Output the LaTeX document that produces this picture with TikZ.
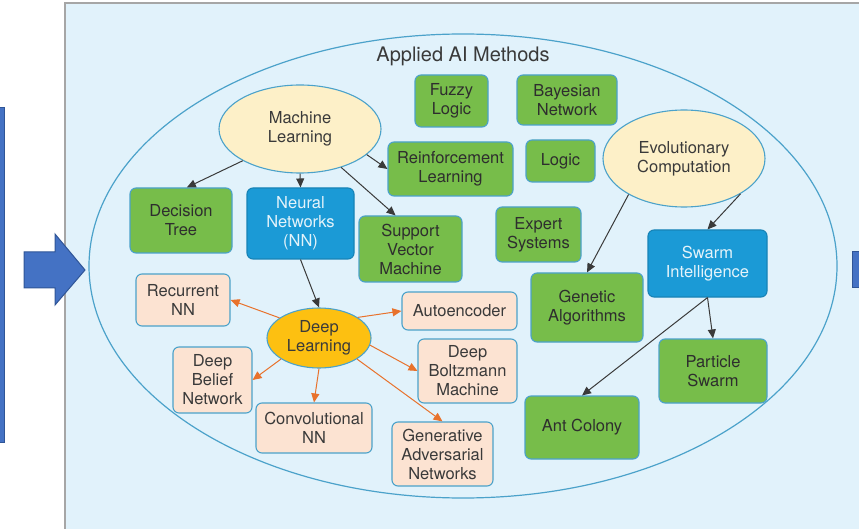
\documentclass[tikz,border=0pt]{standalone}
\usepackage{fontspec}
\setmainfont{TeX Gyre Heros}
\usetikzlibrary{shapes.geometric,arrows.meta}

\definecolor{panelbg}{HTML}{E1F2FB}
\definecolor{rimblue}{HTML}{4BA2CA}
\definecolor{leafgreen}{HTML}{77BD4A}
\definecolor{nnblue}{HTML}{1B9AD6}
\definecolor{peach}{HTML}{FCE3D2}
\definecolor{cream}{HTML}{FDF0C8}
\definecolor{dlyellow}{HTML}{FDC011}
\definecolor{arrorange}{HTML}{E8722C}
\definecolor{bigblue}{HTML}{4472C4}
\definecolor{bigblueedge}{HTML}{2F5597}
\definecolor{txtgray}{HTML}{3A3A3A}

\begin{document}
\begin{tikzpicture}[x=1pt, y=-1pt,
	every node/.style={font=\fontsize{16.5}{19}\selectfont, align=center, inner sep=0pt},
	method/.style={rectangle, rounded corners=6pt, draw=rimblue, line width=1.1pt, fill=leafgreen, text=txtgray!80!black},
	netbox/.style={method, fill=nnblue, draw=nnblue!85!black, text=white!88!nnblue},
	dlbox/.style={method, fill=peach, text=txtgray},
	bubble/.style={ellipse, draw=rimblue, line width=1.1pt, fill=cream, text=txtgray},
	arr/.style={-{Triangle[length=9pt,width=8pt]}, line width=1pt, draw=txtgray},
	orarr/.style={arr, draw=arrorange}]

	\useasboundingbox (0,0) rectangle (859,529);

%panel
	\draw[fill=panelbg, draw=gray!70, line width=1.5pt] (65,3) rectangle (875,545);
	\draw[fill=bigblue, draw=bigblueedge, line width=1pt] (852,252) rectangle (866,288);
	\draw[rimblue, line width=1.2pt] (463,266) ellipse [x radius=374, y radius=232];

%side arrows
	\draw[fill=bigblue, draw=bigblueedge, line width=1pt] (-5,108) rectangle (4,442);
	\draw[fill=bigblue, draw=bigblueedge, line width=1pt] (24,252) -- (55,252) -- (55,234) -- (85,270) -- (55,305) -- (55,288) -- (24,288) -- cycle;

	\node[text=txtgray, font=\fontsize{20}{24}\selectfont] (title) at (463,56) {Applied AI Methods};

%ellipses
	\node[bubble, minimum width=162pt, minimum height=88pt] (ml) at (300,129) {Machine\\Learning};
	\node[bubble, minimum width=162pt, minimum height=97pt] (ec) at (684,158.5) {Evolutionary\\Computation};
	\node[bubble, fill=dlyellow, minimum width=104pt, minimum height=60pt] (dl) at (319,338) {Deep\\Learning};

%green boxes
	\node[method, minimum width=102pt, minimum height=65pt] (dt) at (181,220.5) {Decision\\Tree};
	\node[method, minimum width=103pt, minimum height=66pt] (svm) at (410.5,249) {Support\\Vector\\Machine};
	\node[method, minimum width=73pt, minimum height=52pt] (fl) at (451.5,101) {Fuzzy\\Logic};
	\node[method, minimum width=100pt, minimum height=50pt] (bn) at (567,100) {Bayesian\\Network};
	\node[method, minimum width=125pt, minimum height=54pt] (rl) at (450.5,169) {Reinforcement\\Learning};
	\node[method, minimum width=69pt, minimum height=42pt] (lg) at (560.5,161) {Logic};
	\node[method, minimum width=85pt, minimum height=55pt] (es) at (538.5,234.5) {Expert\\Systems};
	\node[method, minimum width=112pt, minimum height=69pt] (ga) at (587,307.5) {Genetic\\Algorithms};
	\node[method, minimum width=108pt, minimum height=64pt] (ps) at (713,371) {Particle\\Swarm};
	\node[method, minimum width=114pt, minimum height=63pt] (ac) at (582,427.5) {Ant Colony};

%blue boxes
	\node[netbox, minimum width=107pt, minimum height=71pt] (nn) at (300.5,223.5) {Neural\\Networks\\(NN)};
	\node[netbox, minimum width=119pt, minimum height=67pt] (si) at (707.5,263.5) {Swarm\\Intelligence};

%deep learning family
	\node[dlbox, minimum width=94pt, minimum height=52pt] (rnn) at (183,300) {Recurrent\\NN};
	\node[dlbox, minimum width=115pt, minimum height=38pt] (ae) at (459.5,311) {Autoencoder};
	\node[dlbox, minimum width=79pt, minimum height=66pt] (dbn) at (212.5,380) {Deep\\Belief\\Network};
	\node[dlbox, minimum width=99pt, minimum height=64pt] (dbm) at (467.5,371) {Deep\\Boltzmann\\Machine};
	\node[dlbox, minimum width=116pt, minimum height=50pt] (cnn) at (314,428) {Convolutional\\NN};
	\node[dlbox, minimum width=101pt, minimum height=64pt] (gan) at (442.5,454) {Generative\\Adversarial\\Networks};

%links
	\foreach \a/\b in {ml.209/dt.80, ml.south/nn.north, ml.-21/rl.west, ml.-43/svm.114, nn.south/dl.north, ec.213/ga.north, ec.-32/si.north, si.south/ps.north, si.south/ac.north}{
		\draw[arr] (\a) -- (\b);
	}
	\foreach \a/\b in {dl.153/rnn.east, dl.209/dbn.east, dl.south/cnn.north, dl.-29/gan.north, dl.-8/dbm.west, dl.28/ae.west}{
		\draw[orarr] (\a) -- (\b);
	}

\end{tikzpicture}
\end{document}
